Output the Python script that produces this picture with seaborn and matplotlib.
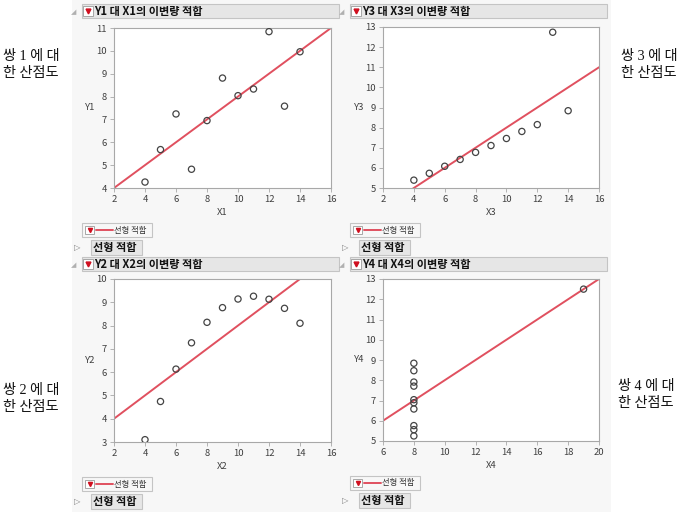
import matplotlib
matplotlib.use("Agg")
import matplotlib.pyplot as plt
import seaborn as sns
import numpy as np
from matplotlib.patches import Rectangle
from matplotlib.lines import Line2D

# Anscombe's quartet
x123 = [10, 8, 13, 9, 11, 14, 6, 4, 12, 7, 5]
y1 = [8.04, 6.95, 7.58, 8.81, 8.33, 9.96, 7.24, 4.26, 10.84, 4.82, 5.68]
y2 = [9.14, 8.14, 8.74, 8.77, 9.26, 8.10, 6.13, 3.10, 9.13, 7.26, 4.74]
y3 = [7.46, 6.77, 12.74, 7.11, 7.81, 8.84, 6.08, 5.39, 8.15, 6.42, 5.73]
x4 = [8, 8, 8, 8, 8, 8, 8, 19, 8, 8, 8]
y4 = [6.58, 5.76, 7.71, 8.84, 8.47, 7.04, 5.25, 12.50, 5.56, 7.91, 6.89]

titles = ["Y1 대 X1의 이변량 적합", "Y3 대 X3의 이변량 적합",
          "Y2 대 X2의 이변량 적합", "Y4 대 X4의 이변량 적합"]
side_labels = ["쌍 1 에 대\n한 산점도", "쌍 3 에 대\n한 산점도",
               "쌍 2 에 대\n한 산점도", "쌍 4 에 대\n한 산점도"]
legend_label = "선형 적합"

sns.set_style("white")
plt.rcParams["font.family"] = ["Noto Sans CJK KR", "DejaVu Sans"]

W, H = 686, 512
fig = plt.figure(figsize=(W / 100, H / 100), dpi=100)
fig.patch.set_facecolor("white")


def box(x0, y0, x1, y1):
    return [x0 / W, 1 - y1 / H, (x1 - x0) / W, (y1 - y0) / H]


def fx(x):
    return x / W


def fy(y):
    return 1 - y / H


def frect(x0, y0, x1, y1, **kw):
    # rectangle in pixel coords (y down)
    fig.add_artist(Rectangle((fx(x0), fy(y1)), fx(x1) - fx(x0), fy(y0) - fy(y1),
                             transform=fig.transFigure, **kw))


# JMP report background
frect(72, 0, 611, 512, facecolor="#f7f7f7", edgecolor="none", zorder=0)

red = "#e0505f"

panels = [
    dict(x=x123, y=y1, xl="X1", yl="Y1", xlim=(2, 16), ylim=(4, 11), xt=range(2, 17, 2), yt=range(4, 12),
         left=82, top=4, ax=(114, 28, 331, 188), cap=(3, 50)),
    dict(x=x123, y=y3, xl="X3", yl="Y3", xlim=(2, 16), ylim=(5, 13), xt=range(2, 17, 2), yt=range(5, 14),
         left=350, top=4, ax=(383, 27, 599, 188), cap=(621, 50)),
    dict(x=x123, y=y2, xl="X2", yl="Y2", xlim=(2, 16), ylim=(3, 10), xt=range(2, 17, 2), yt=range(3, 11),
         left=82, top=257, ax=(114, 279, 331, 442), cap=(3, 384)),
    dict(x=x4, y=y4, xl="X4", yl="Y4", xlim=(6, 20), ylim=(5, 13), xt=range(6, 21, 2), yt=range(5, 14),
         left=350, top=257, ax=(383, 279, 599, 441), cap=(618, 380)),
]

for p, title, caption in zip(panels, titles, side_labels):
    L, T = p["left"], p["top"]

    # header bar
    frect(L, T, L + 257, T + 14, facecolor="#e6e6e6", edgecolor="#c4c4c4", lw=0.8)
    fig.text(fx(L - 8), fy(T + 8), "◢", fontsize=5, color="#b0b0b0", ha="center", va="center",
             family=["DejaVu Sans"])
    frect(L + 1, T + 2, L + 11, T + 12, facecolor="white", edgecolor="#9a9a9a", lw=0.6)
    fig.add_artist(Line2D([fx(L + 6)], [fy(T + 7)], marker="v", markersize=3.5, color="#d01020",
                          transform=fig.transFigure))
    fig.text(fx(L + 12), fy(T + 7.5), title, fontsize=8, fontweight="bold", color="#111111",
             ha="left", va="center")

    # scatter + linear fit
    ax = fig.add_axes(box(*p["ax"]))
    ax.set_xlim(p["xlim"])
    ax.set_ylim(p["ylim"])
    sns.regplot(x=np.array(p["x"]), y=np.array(p["y"]), ax=ax, ci=None, truncate=False, scatter=False,
                line_kws=dict(color=red, lw=1.4))
    sns.scatterplot(x=p["x"], y=p["y"], ax=ax, marker="o", s=20, facecolor="none",
                    edgecolor="#444444", linewidth=0.9, zorder=3)
    ax.set_xlim(p["xlim"])
    ax.set_ylim(p["ylim"])
    ax.set_xticks(list(p["xt"]))
    ax.set_yticks(list(p["yt"]))
    ax.set_facecolor("white")
    for s in ax.spines.values():
        s.set_color("#a8a8a8")
        s.set_linewidth(0.8)
    ax.tick_params(axis="both", direction="out", length=3, width=0.6, color="#a8a8a8",
                   labelsize=6.8, labelcolor="#404040", pad=2, bottom=True, left=True)
    ax.set_xlabel(p["xl"], fontsize=6.8, color="#404040", labelpad=3)
    ax.set_ylabel(p["yl"], fontsize=6.8, color="#404040", rotation=0, ha="center", va="center")
    ax.yaxis.set_label_coords(-0.11, 0.5)

    # legend box
    ly = p["ax"][3] + 35
    frect(L, ly, L + 70, ly + 14, facecolor="#f7f7f7", edgecolor="#c4c4c4", lw=0.8)
    frect(L + 3, ly + 3, L + 12, ly + 11, facecolor="white", edgecolor="#9a9a9a", lw=0.6)
    fig.add_artist(Line2D([fx(L + 7.5)], [fy(ly + 7)], marker="v", markersize=3, color="#d01020",
                          transform=fig.transFigure))
    fig.add_artist(Line2D([fx(L + 14), fx(L + 31)], [fy(ly + 7), fy(ly + 7)], color=red, lw=1.4,
                          transform=fig.transFigure))
    fig.text(fx(L + 32), fy(ly + 7), legend_label, fontsize=6, color="#303030", ha="left", va="center")

    # collapsed "선형 적합" outline
    by = ly + 17
    frect(L + 9, by, L + 60, by + 15, facecolor="#e6e6e6", edgecolor="#c4c4c4", lw=0.8)
    fig.text(fx(L - 5), fy(by + 7.5), "▷", fontsize=6, color="#808080", ha="center", va="center",
             family=["DejaVu Sans"])
    fig.text(fx(L + 11), fy(by + 7.5), legend_label, fontsize=8, fontweight="bold", color="#111111",
             ha="left", va="center")

    # side caption (digits in a serif face, as in the original)
    cx, cy = p["cap"]
    fig.text(fx(cx), fy(cy), caption, fontsize=10.2, color="#111111", ha="left", va="top",
             linespacing=1.45, family=["Liberation Serif", "Noto Sans CJK KR"])

fig.savefig("out.png", dpi=100)
